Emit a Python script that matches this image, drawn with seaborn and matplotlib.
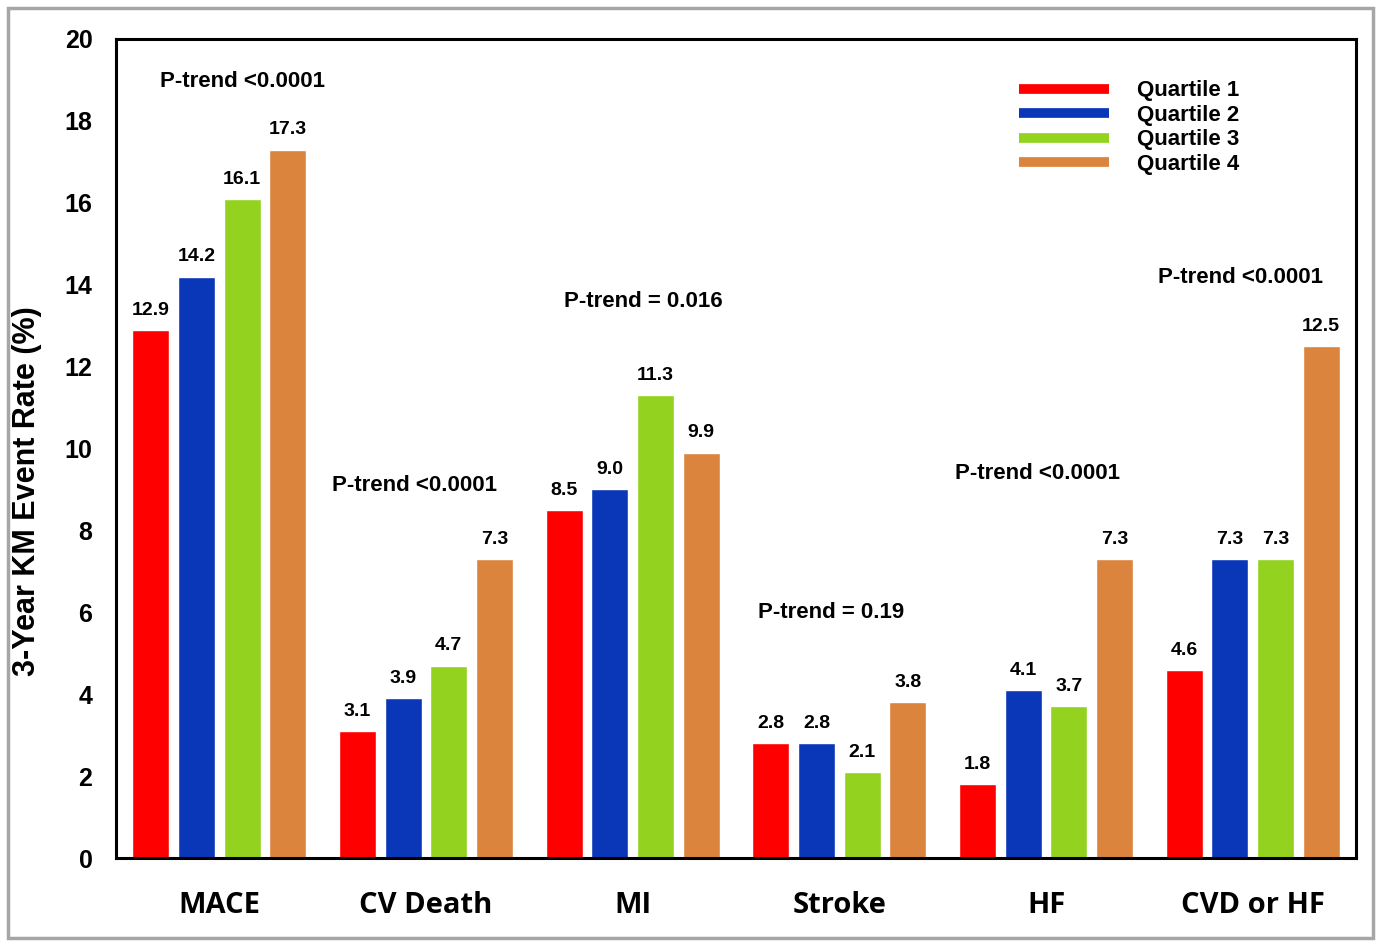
import numpy as np
import pandas as pd
import matplotlib
matplotlib.use("Agg")
import matplotlib.pyplot as plt
import seaborn as sns
from matplotlib.patches import Rectangle
from matplotlib.lines import Line2D

# Data
outcomes = ["MACE", "CV Death", "MI", "Stroke", "HF", "CVD or HF"]
quartiles = ["Quartile 1", "Quartile 2", "Quartile 3", "Quartile 4"]
q1 = [12.9, 3.1, 8.5, 2.8, 1.8, 4.6]
q2 = [14.2, 3.9, 9.0, 2.8, 4.1, 7.3]
q3 = [16.1, 4.7, 11.3, 2.1, 3.7, 7.3]
q4 = [17.3, 7.3, 9.9, 3.8, 7.3, 12.5]
p_trend = ["P-trend <0.0001", "P-trend <0.0001", "P-trend = 0.016",
           "P-trend = 0.19", "P-trend <0.0001", "P-trend <0.0001"]
p_pos = [(0.11, 18.95), (0.946, 9.1), (2.05, 13.6), (2.96, 6.0), (3.96, 9.39), (4.94, 14.17)]

colors = ["#FF0000", "#0A37B8", "#93D31F", "#DB843D"]

df = pd.DataFrame({
    "Outcome": outcomes * 4,
    "Quartile": np.repeat(quartiles, len(outcomes)),
    "Rate": q1 + q2 + q3 + q4,
})

sns.set_theme(style="white")
plt.rcParams['font.family'] = ['Liberation Sans', 'DejaVu Sans']
plt.rcParams.update({"text.color": "black", "axes.labelcolor": "black",
                     "xtick.color": "black", "ytick.color": "black"})

fig = plt.figure(figsize=(13.77, 9.41), dpi=100)
ax = fig.add_axes([116 / 1377, 1 - 858 / 941, 1240 / 1377, 819 / 941])

sns.barplot(data=df, x="Outcome", y="Rate", hue="Quartile", order=outcomes,
            hue_order=quartiles, palette=colors, width=0.884, gap=0.19,
            saturation=1, legend=False, ax=ax)

# value labels
for cont in ax.containers:
    ax.bar_label(cont, fmt="%.1f", padding=8, fontsize=14, fontweight="bold")

# p-trend text
for txt, (x, y) in zip(p_trend, p_pos):
    ax.text(x, y, txt, ha="center", va="center", fontsize=16, fontweight="bold")

ax.set_xlim(-0.5, 5.5)
ax.set_ylim(0, 20)
ax.set_yticks(range(0, 21, 2))
ax.set_yticklabels([str(v) for v in range(0, 21, 2)], fontsize=18, fontweight="bold")
ax.tick_params(axis="both", length=0)
ax.tick_params(axis="y", pad=17)
ax.set_xticks(range(len(outcomes)))
ax.set_xticklabels(outcomes, fontsize=21, fontweight="bold", family=["Open Sans", "DejaVu Sans"])
ax.tick_params(axis="x", pad=24)
ax.set_xlabel("")
ax.set_ylabel("3-Year KM Event Rate (%)", fontsize=22, fontweight="bold")
ax.yaxis.set_label_coords(-0.06, 0.448)

for sp in ax.spines.values():
    sp.set_visible(True)
    sp.set_color("black")
    sp.set_linewidth(2.2)

handles = [Line2D([0], [0], color=c, lw=7, solid_capstyle="butt") for c in colors]
leg = ax.legend(handles, quartiles, loc="upper left", bbox_to_anchor=(0.712, 0.974),
                frameon=False, handlelength=4.05, handletextpad=1.26, labelspacing=0.16,
                prop={"size": 16, "weight": "bold"})

# gray border around the whole picture
fig.patches.append(Rectangle((8 / 1377, 3 / 941), 1365 / 1377, 930 / 941,
                             transform=fig.transFigure, fill=False,
                             edgecolor="#A6A6A6", linewidth=2.5))

fig.savefig("out.png", dpi=100)
